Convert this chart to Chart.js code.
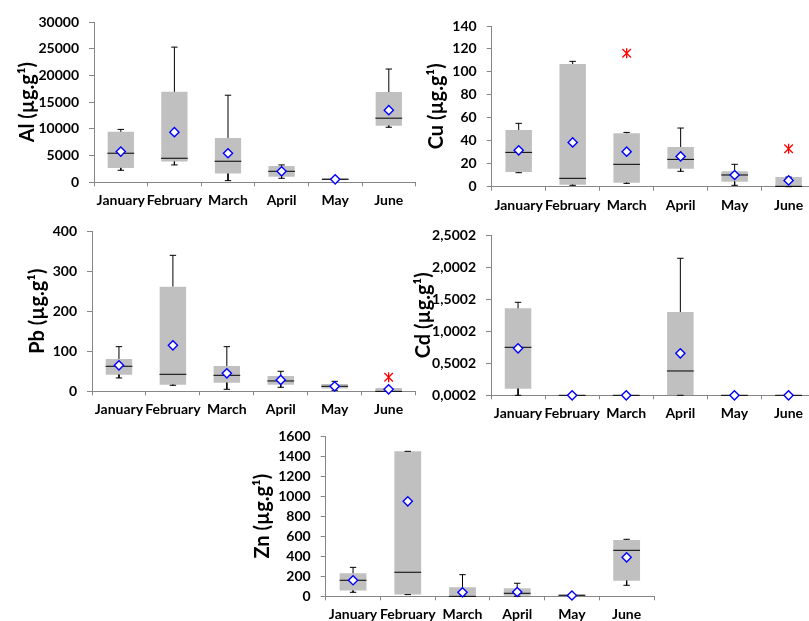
<!DOCTYPE html>
<html><head><meta charset="utf-8">
<script src="https://cdn.jsdelivr.net/npm/chart.js@4"></script>
<style>
html,body{margin:0;padding:0;background:#fff;overflow:hidden;width:809px;height:621px;position:relative;}
canvas{position:absolute;}
</style></head><body>
<canvas id="al" width="430" height="215" style="left:0px;top:0px"></canvas>
<canvas id="cu" width="430" height="215" style="left:400px;top:0px"></canvas>
<canvas id="pb" width="430" height="205" style="left:0px;top:215px"></canvas>
<canvas id="cd" width="430" height="205" style="left:400px;top:215px"></canvas>
<canvas id="zn" width="450" height="201" style="left:220px;top:420px"></canvas>
<script>
const months = ['January', 'February', 'March', 'April', 'May', 'June'];

// Al
const alMin    = [2250, 3250, 310, 750, 440, 10300];
const alQ1     = [2690, 3875, 1625, 1060, 440, 10600];
const alMedian = [5440, 4500, 3940, 2060, 560, 12000];
const alQ3     = [9440, 16940, 8310, 3060, 810, 16900];
const alMax    = [9900, 25300, 16300, 3250, 810, 21200];
const alMean   = [5750, 9375, 5440, 2060, 560, 13500];
const alOutliers = [null, null, null, null, null, null];
const alTicks  = [0, 5000, 10000, 15000, 20000, 25000, 30000];

// Cu
const cuMin    = [12.2, 1.2, 2.9, 13.4, 1.2, 0];
const cuQ1     = [12.8, 1.7, 3.5, 15.7, 4.4, 0];
const cuMedian = [29.9, 7.3, 19.5, 23.8, 10.2, 0.3];
const cuQ3     = [49.4, 106.9, 46.5, 34.6, 13.4, 8.4];
const cuMax    = [55.2, 109.2, 47.3, 51.1, 19.5, 8.4];
const cuMean   = [31.7, 38.6, 30.5, 26.4, 10.2, 5.5];
const cuOutliers = [null, null, 116.2, null, null, 33.1];
const cuTicks  = [0, 20, 40, 60, 80, 100, 120, 140];

// Pb
const pbMin    = [33.3, 15, 5, 10, 2.5, 0];
const pbQ1     = [41.6, 16.6, 21.6, 16.6, 6.7, 0];
const pbMedian = [62.4, 42.4, 39.9, 25.8, 12.5, 0];
const pbQ3     = [80.7, 261.1, 63.2, 38.3, 18.3, 8.3];
const pbMax    = [111.4, 339.3, 111.4, 49.9, 24.9, 8.3];
const pbMean   = [64.9, 114.8, 44.9, 28.3, 12.5, 5];
const pbOutliers = [null, null, null, null, null, 34.9];
const pbTicks  = [0, 100, 200, 300, 400];

// Cd
const cdMin    = [0.0002, 0.0002, 0.0002, 0.0002, 0.0002, 0.0002];
const cdQ1     = [0.1042, 0.0002, 0.0002, 0.0002, 0.0002, 0.0002];
const cdMedian = [0.7502, 0.0002, 0.0002, 0.3802, 0.0002, 0.0002];
const cdQ3     = [1.3592, 0.0002, 0.0002, 1.3022, 0.0002, 0.0002];
const cdMax    = [1.4532, 0.0002, 0.0002, 2.1412, 0.0002, 0.0002];
const cdMean   = [0.7342, 0.0002, 0.0002, 0.6562, 0.0002, 0.0002];
const cdOutliers = [null, null, null, null, null, null];
const cdTicks  = [0.0002, 0.5002, 1.0002, 1.5002, 2.0002, 2.5002];

// Zn
const znMin    = [40, 17, 0, 0, 0, 110];
const znQ1     = [57, 17, 0, 0, 0, 156];
const znMedian = [160, 240, 0, 30, 10, 459];
const znQ3     = [230, 1447, 90, 80, 20, 562];
const znMax    = [289, 1447, 216, 130, 20, 569];
const znMean   = [160, 948, 40, 43, 8, 389];
const znOutliers = [null, null, null, null, null, null];
const znTicks  = [0, 200, 400, 600, 800, 1000, 1200, 1400, 1600];

const FONT = 'Lato';
const AXIS = '#868686';

function buildChart(id, L, d) {
  const boxData = months.map((m, i) => [d.q1[i], d.q3[i]]);
  const whisk = [];
  const caps = [];
  months.forEach((m, i) => {
    whisk.push({x: m, y: d.q3[i]}, {x: m, y: d.max[i]}, {x: m, y: null},
               {x: m, y: d.q1[i]}, {x: m, y: d.min[i]}, {x: m, y: null});
    caps.push({x: m, y: d.max[i]}, {x: m, y: d.min[i]});
  });
  const med = months.map((m, i) => ({x: m, y: d.median[i]}));
  const mean = months.map((m, i) => ({x: m, y: d.mean[i]}));
  const outl = months.map((m, i) => ({x: m, y: d.outliers[i]}));
  const pt = {type: 'line', showLine: false, clip: false};
  const datasets = [
    Object.assign({}, pt, {data: mean, pointStyle: 'rectRot', pointRadius: 4.6, pointBackgroundColor: '#ffffff', pointBorderColor: '#0000FF', pointBorderWidth: 1.4, order: 0}),
    Object.assign({}, pt, {data: outl, pointStyle: 'crossRot', pointRadius: 6, pointBorderColor: '#FF0000', pointBorderWidth: 1.3, order: 1}),
    Object.assign({}, pt, {data: outl, pointStyle: 'line', pointRotation: 90, pointRadius: 5, pointBorderColor: '#FF0000', pointBorderWidth: 1.3, order: 1}),
    Object.assign({}, pt, {data: med, pointStyle: 'line', pointRadius: 13.4, pointBorderColor: '#000000', pointBorderWidth: 1, order: 2}),
    Object.assign({}, pt, {data: caps, pointStyle: 'line', pointRadius: 3.2, pointBorderColor: '#000000', pointBorderWidth: 1, order: 3}),
    {type: 'line', data: whisk, showLine: true, spanGaps: false, pointRadius: 0, borderColor: '#000000', borderWidth: 1, clip: false, order: 4},
    {type: 'bar', data: boxData, backgroundColor: '#C0C0C0', borderWidth: 0, barPercentage: 0.49, categoryPercentage: 1, order: 5}
  ];
  const tickFont = {family: FONT, size: 14, weight: 'bold'};
  return new Chart(document.getElementById(id), {
    type: 'bar',
    data: {labels: months, datasets: datasets},
    options: {
      responsive: false, animation: false, devicePixelRatio: 1, events: [],
      layout: {padding: {left: 0, right: L.w - L.pr, top: L.pt, bottom: 0}},
      plugins: {legend: {display: false}, tooltip: {enabled: false}, title: {display: false}},
      scales: {
        x: {
          type: 'category', offset: true,
          grid: {display: true, offset: true, drawOnChartArea: false, drawTicks: true, tickLength: 4, color: AXIS},
          border: {display: true, color: AXIS, width: 1},
          ticks: {font: tickFont, color: '#000', padding: 6, maxRotation: 0, autoSkip: false},
          afterFit: s => { s.height = L.h - L.pb; s.paddingLeft = 0; s.paddingRight = 0; }
        },
        y: {
          type: 'linear', min: d.ticks[0], max: d.ticks[d.ticks.length - 1],
          grid: {display: true, drawOnChartArea: false, drawTicks: true, tickLength: 5, color: AXIS},
          border: {display: true, color: AXIS, width: 1},
          ticks: {font: tickFont, color: '#000', padding: 10, callback: d.fmt},
          afterBuildTicks: s => { s.ticks = d.ticks.map(v => ({value: v})); },
          afterFit: s => { s.width = L.pl; s.paddingTop = 0; s.paddingBottom = 0; },
          title: {display: true, text: d.title, color: '#000',
                  font: {family: FONT, size: 20, weight: 'bold', lineHeight: 1.2},
                  padding: {top: L.tp, bottom: 0}}
        }
      }
    }
  });
}

const plain = v => String(v);
const comma = v => v.toFixed(4).replace('.', ',');

buildChart('al', {w: 430, pl: 94, pr: 422, pt: 22, pb: 182.3, h: 215, tp: 15.5},
  {min: alMin, q1: alQ1, median: alMedian, q3: alQ3, max: alMax, mean: alMean, outliers: alOutliers, ticks: alTicks, fmt: plain, title: 'Al (µg.g¹)'});
buildChart('cu', {w: 430, pl: 91.7, pr: 420, pt: 26, pb: 186.7, h: 215, tp: 25},
  {min: cuMin, q1: cuQ1, median: cuMedian, q3: cuQ3, max: cuMax, mean: cuMean, outliers: cuOutliers, ticks: cuTicks, fmt: plain, title: 'Cu (µg.g¹)'});
buildChart('pb', {w: 430, pl: 92, pr: 421.5, pt: 16, pb: 176.3, h: 205, tp: 25.5},
  {min: pbMin, q1: pbQ1, median: pbMedian, q3: pbQ3, max: pbMax, mean: pbMean, outliers: pbOutliers, ticks: pbTicks, fmt: plain, title: 'Pb (µg.g¹)'});
buildChart('cd', {w: 430, pl: 91, pr: 420, pt: 20.3, pb: 180.3, h: 205, tp: 12},
  {min: cdMin, q1: cdQ1, median: cdMedian, q3: cdQ3, max: cdMax, mean: cdMean, outliers: cdOutliers, ticks: cdTicks, fmt: comma, title: 'Cd (µg.g¹)'});
buildChart('zn', {w: 450, pl: 105.7, pr: 434, pt: 16, pb: 176.3, h: 201, tp: 30.5},
  {min: znMin, q1: znQ1, median: znMedian, q3: znQ3, max: znMax, mean: znMean, outliers: znOutliers, ticks: znTicks, fmt: plain, title: 'Zn (µg.g¹)'});
</script>
</body></html>
